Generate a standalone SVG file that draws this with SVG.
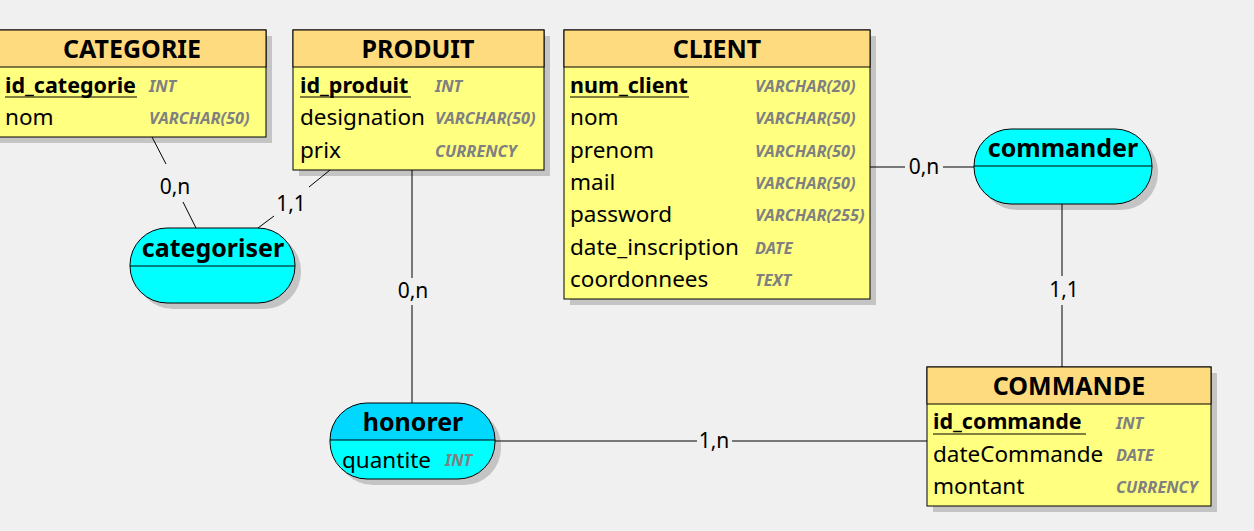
<svg xmlns="http://www.w3.org/2000/svg" width="1254" height="531" viewBox="0 0 1254 531">
<style>
.shadow{fill:#c4c4c4}
.hdr{fill:#ffdb80;stroke:#000;stroke-width:1}
.body{fill:#ffff80;stroke:#000;stroke-width:1}
.title{font-family:"Noto Sans",sans-serif;font-weight:bold;font-size:25px;fill:#000;text-anchor:middle}
.attr{font-family:"Noto Sans",sans-serif;font-size:22.5px;fill:#000}
.key{font-weight:bold;font-size:21.5px}
.type{font-family:"Noto Sans",sans-serif;font-size:16.3px;font-weight:bold;font-style:italic;fill:#808080}
.lbl{font-family:"Noto Sans",sans-serif;font-size:21px;fill:#000;text-anchor:middle}
.ln{stroke:#000;stroke-width:1;fill:none}
.assoc{fill:#00ffff;stroke:#000;stroke-width:1}
</style>
<rect width="1254" height="531" fill="#f0f0f0"/>
<g id="categorie">
<rect class="shadow" x="-4" y="36" width="276" height="107"/>
<rect class="body" x="-10" y="30" width="276" height="107"/>
<rect class="hdr" x="-10" y="30" width="276" height="37"/>
<text class="title" x="132" y="58">CATEGORIE</text>
<text class="attr key" x="5" y="93">id_categorie</text>
<line class="ln" x1="5" y1="97" x2="137" y2="97"/>
<text class="type" x="149" y="92">INT</text>
<text class="attr" x="5" y="125">nom</text>
<text class="type" x="149" y="124">VARCHAR(50)</text>
</g>
<g id="produit">
<rect class="shadow" x="299" y="36" width="251" height="140"/>
<rect class="body" x="293" y="30" width="251" height="140"/>
<rect class="hdr" x="293" y="30" width="251" height="37"/>
<text class="title" x="418" y="58">PRODUIT</text>
<text class="attr key" x="300" y="93">id_produit</text>
<line class="ln" x1="300" y1="97" x2="411" y2="97"/>
<text class="type" x="435" y="92">INT</text>
<text class="attr" x="300" y="125">designation</text>
<text class="type" x="435" y="124">VARCHAR(50)</text>
<text class="attr" x="300" y="158">prix</text>
<text class="type" x="435" y="157">CURRENCY</text>
</g>
<g id="client">
<rect class="shadow" x="570" y="36" width="306" height="269"/>
<rect class="body" x="564" y="30" width="306" height="269"/>
<rect class="hdr" x="564" y="30" width="306" height="37"/>
<text class="title" x="717" y="58">CLIENT</text>
<text class="attr key" x="570" y="93">num_client</text>
<line class="ln" x1="570" y1="97" x2="689" y2="97"/>
<text class="type" x="755" y="92">VARCHAR(20)</text>
<text class="attr" x="570" y="125">nom</text>
<text class="type" x="755" y="124">VARCHAR(50)</text>
<text class="attr" x="570" y="158">prenom</text>
<text class="type" x="755" y="157">VARCHAR(50)</text>
<text class="attr" x="570" y="190">mail</text>
<text class="type" x="755" y="189">VARCHAR(50)</text>
<text class="attr" x="570" y="222">password</text>
<text class="type" x="755" y="221">VARCHAR(255)</text>
<text class="attr" x="570" y="255">date_inscription</text>
<text class="type" x="755" y="254">DATE</text>
<text class="attr" x="570" y="287">coordonnees</text>
<text class="type" x="755" y="286">TEXT</text>
</g>
<g id="commande">
<rect class="shadow" x="933" y="373" width="284" height="139"/>
<rect class="body" x="927" y="367" width="284" height="139"/>
<rect class="hdr" x="927" y="367" width="284" height="37"/>
<text class="title" x="1069" y="395">COMMANDE</text>
<text class="attr key" x="933" y="429">id_commande</text>
<line class="ln" x1="933" y1="434" x2="1086" y2="434"/>
<text class="type" x="1116" y="429">INT</text>
<text class="attr" x="933" y="462">dateCommande</text>
<text class="type" x="1116" y="461">DATE</text>
<text class="attr" x="933" y="494">montant</text>
<text class="type" x="1116" y="493">CURRENCY</text>
</g>
<g id="categoriser">
<rect class="shadow" x="136" y="234" width="165" height="75" rx="37"/>
<rect class="assoc" x="130" y="228" width="165" height="75" rx="37"/>
<line class="ln" x1="130" y1="266" x2="295" y2="266"/>
<text class="title" x="213" y="257">categoriser</text>
</g>
<g id="honorer">
<rect class="shadow" x="336" y="409" width="165" height="76" rx="37"/>
<path d="M367,403 H458 A37,37 0 0 1 495,440 H330 A37,37 0 0 1 367,403 Z" fill="#00d8ff"/>
<path d="M330,440 H495 A37,38 0 0 1 458,479 H367 A37,38 0 0 1 330,440 Z" fill="#00ffff"/>
<rect x="330" y="403" width="165" height="76" rx="37" fill="none" stroke="#000"/>
<line class="ln" x1="330" y1="440" x2="495" y2="440"/>
<text class="title" x="413" y="431">honorer</text>
<text class="attr" x="342" y="468">quantite</text>
<text class="type" x="445" y="466">INT</text>
</g>
<g id="commander">
<rect class="shadow" x="980" y="135" width="178" height="75" rx="37"/>
<rect class="assoc" x="974" y="129" width="178" height="75" rx="37"/>
<line class="ln" x1="974" y1="166" x2="1152" y2="166"/>
<text class="title" x="1063" y="157">commander</text>
</g>
<g id="connectors">
<line class="ln" x1="152" y1="137" x2="166" y2="164"/>
<line class="ln" x1="183" y1="202" x2="196" y2="228"/>
<text class="lbl" x="175" y="194">0,n</text>
<line class="ln" x1="330" y1="170" x2="309" y2="187"/>
<line class="ln" x1="274" y1="216" x2="258" y2="228"/>
<text class="lbl" x="291" y="211">1,1</text>
<line class="ln" x1="412" y1="170" x2="412" y2="278"/>
<line class="ln" x1="412" y1="305" x2="412" y2="403"/>
<text class="lbl" x="413" y="298">0,n</text>
<line class="ln" x1="495" y1="441" x2="697" y2="441"/>
<line class="ln" x1="732" y1="441" x2="927" y2="441"/>
<text class="lbl" x="714" y="448">1,n</text>
<line class="ln" x1="870" y1="167" x2="905" y2="167"/>
<line class="ln" x1="943" y1="167" x2="974" y2="167"/>
<text class="lbl" x="924" y="174">0,n</text>
<line class="ln" x1="1062" y1="204" x2="1062" y2="276"/>
<line class="ln" x1="1062" y1="305" x2="1062" y2="367"/>
<text class="lbl" x="1064" y="297">1,1</text>
</g>
</svg>
